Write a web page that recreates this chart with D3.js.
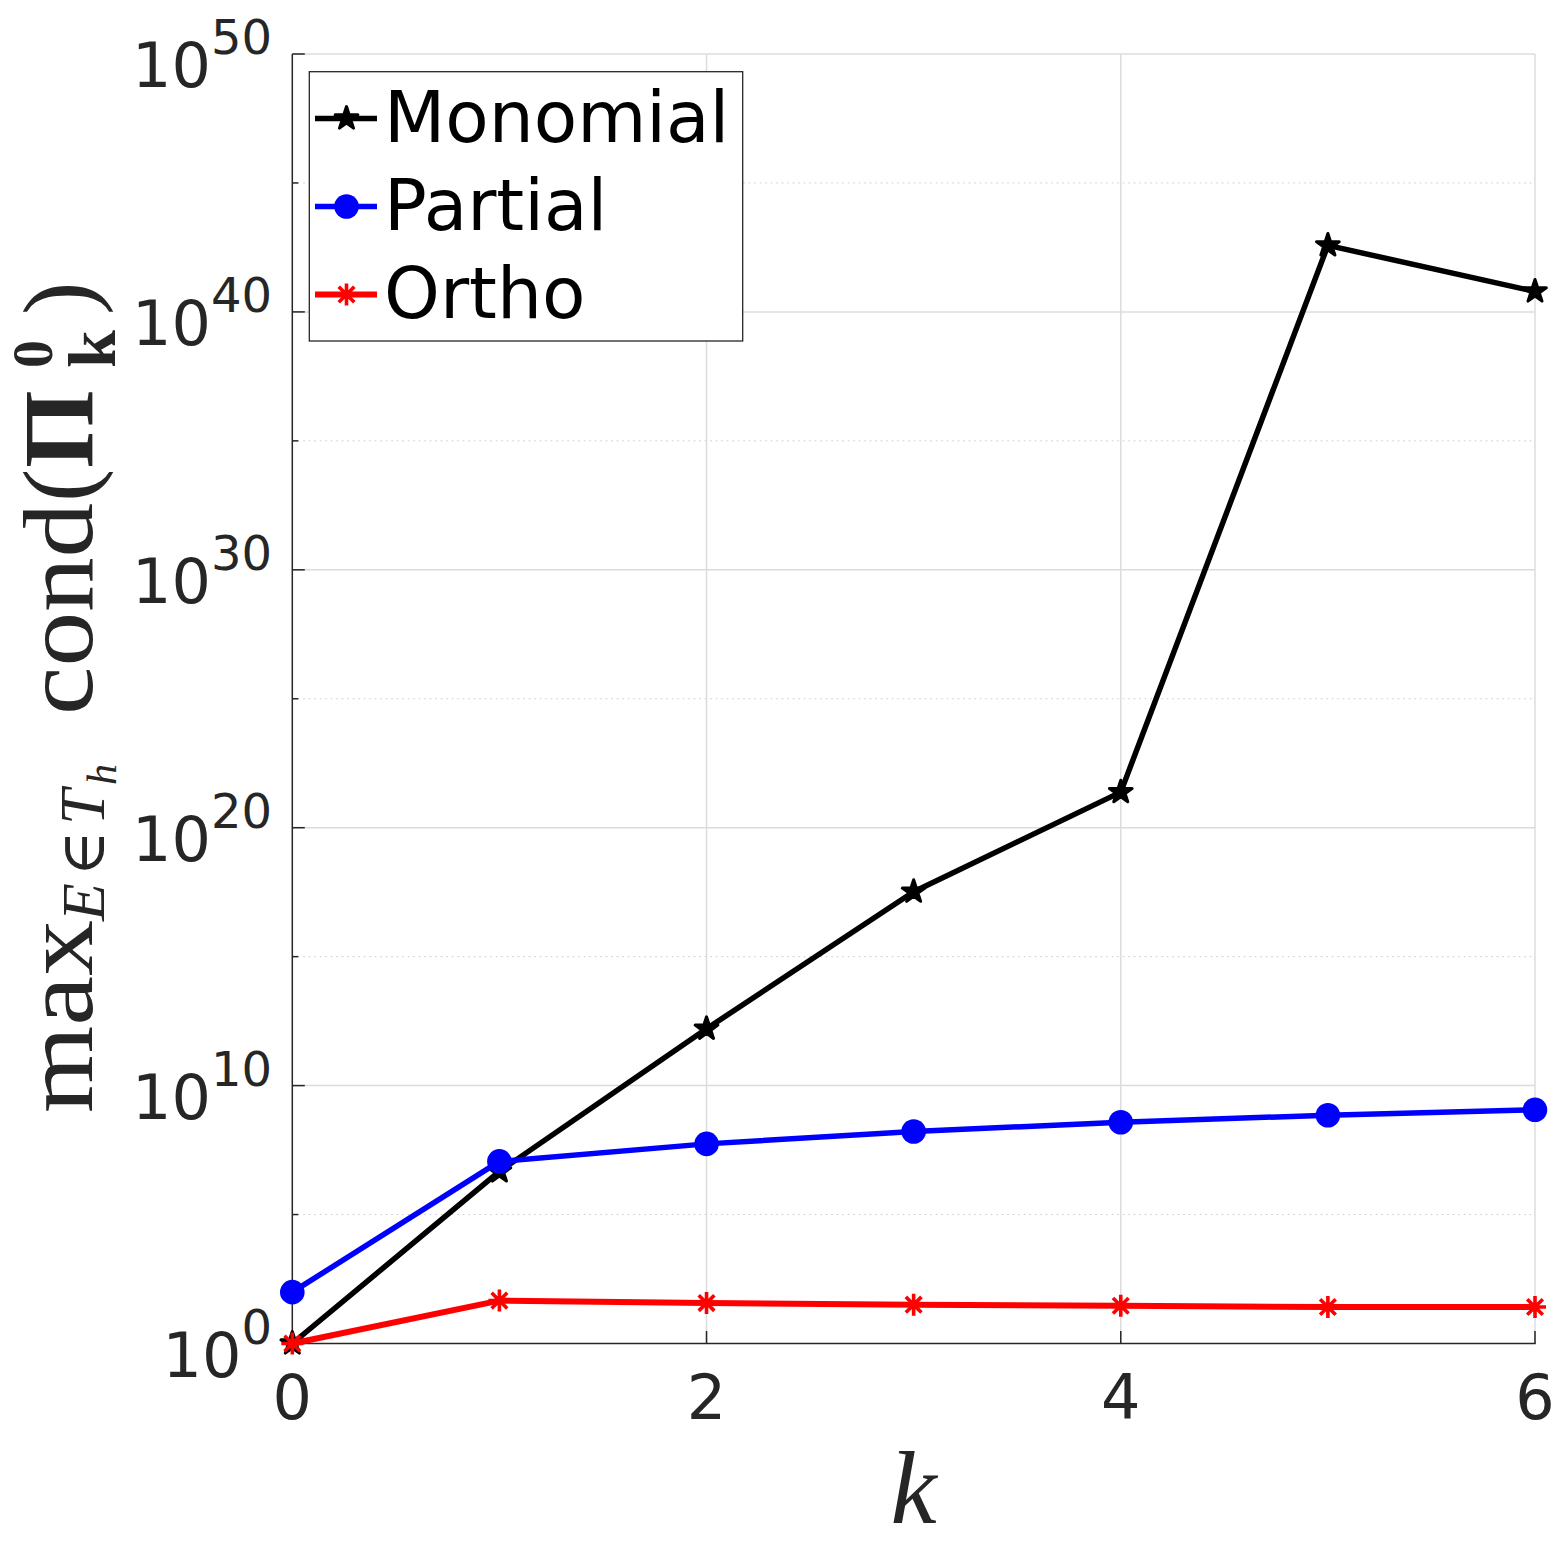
<!DOCTYPE html>
<html>
<head>
<meta charset="utf-8">
<script src="https://cdn.jsdelivr.net/npm/d3@7"></script>
<style>
  body { margin: 0; background: #fff; }
  svg { display: block; }
</style>
</head>
<body>
<svg id="chart" width="1563" height="1563"></svg>
<script>
// values (log scale)
const kValues = [0, 1, 2, 3, 4, 5, 6];
const monomial = [1, 4.7e6, 1.6e12, 3.3e17, 2.4e21, 3.8e42, 6.2e40];
const partial = [98, 1.15e7, 5.5e7, 1.66e8, 3.8e8, 7.1e8, 1.15e9];
const ortho = [1, 46, 37, 32, 29, 26, 26];
const seriesNames = ['Monomial', 'Partial', 'Ortho'];
const xTicks = [0, 2, 4, 6];
const yTickExponents = [0, 10, 20, 30, 40, 50];
const yMinorExponents = [5, 15, 25, 35, 45];

const axisColor = '#262626';
const sansFont = '"DejaVu Sans", sans-serif';
const serifFont = '"Liberation Serif", "DejaVu Serif", serif';

const svg = d3.select('#chart');

const x = d3.scaleLinear().domain([0, 6]).range([292.3, 1535]);
const y = d3.scaleLog().domain([1, 1e50]).range([1343.5, 54]);

// grid
const grid = svg.append('g');
grid.selectAll('.ymajor')
    .data(yTickExponents.filter(e => e > 0))
  .enter().append('line')
    .attr('x1', x(0)).attr('x2', x(6))
    .attr('y1', d => y(10 ** d)).attr('y2', d => y(10 ** d))
    .attr('stroke', '#dcdcdc').attr('stroke-width', 1.5);
grid.selectAll('.yminor')
    .data(yMinorExponents)
  .enter().append('line')
    .attr('x1', x(0)).attr('x2', x(6))
    .attr('y1', d => y(10 ** d)).attr('y2', d => y(10 ** d))
    .attr('stroke', '#c8c8c8').attr('stroke-width', 1)
    .attr('stroke-dasharray', '1.5,4');
grid.selectAll('.xgrid')
    .data(xTicks.filter(t => t > 0))
  .enter().append('line')
    .attr('x1', d => x(d)).attr('x2', d => x(d))
    .attr('y1', y(1)).attr('y2', y(1e50))
    .attr('stroke', '#dcdcdc').attr('stroke-width', 1.5);

// axes lines and ticks
const axes = svg.append('g').attr('stroke', axisColor);
axes.append('line')
    .attr('x1', x(0)).attr('x2', x(0)).attr('y1', y(1) + 0.7).attr('y2', y(1e50))
    .attr('stroke-width', 1.5);
axes.append('line')
    .attr('x1', x(0)).attr('x2', x(6) + 0.7).attr('y1', y(1)).attr('y2', y(1))
    .attr('stroke-width', 1.5);
axes.selectAll('.ytick')
    .data(yTickExponents)
  .enter().append('line')
    .attr('x1', x(0)).attr('x2', x(0) + 12.5)
    .attr('y1', d => y(10 ** d)).attr('y2', d => y(10 ** d))
    .attr('stroke-width', 1.5);
axes.selectAll('.yminortick')
    .data(yMinorExponents)
  .enter().append('line')
    .attr('x1', x(0)).attr('x2', x(0) + 6)
    .attr('y1', d => y(10 ** d)).attr('y2', d => y(10 ** d))
    .attr('stroke-width', 1.5);
axes.selectAll('.xtick')
    .data(xTicks)
  .enter().append('line')
    .attr('x1', d => x(d)).attr('x2', d => x(d))
    .attr('y1', y(1)).attr('y2', y(1) - 12.5)
    .attr('stroke-width', 1.5);

// tick labels
svg.selectAll('.xlabel')
    .data(xTicks)
  .enter().append('text')
    .attr('x', d => x(d))
    .attr('y', 1419)
    .attr('text-anchor', 'middle')
    .style('font-family', sansFont)
    .style('font-size', '62px')
    .attr('fill', axisColor)
    .text(d => d);

let yLabels = svg.selectAll('.ylabel')
    .data(yTickExponents)
  .enter().append('text')
    .attr('x', 272)
    .attr('y', d => y(10 ** d) + 33)
    .attr('text-anchor', 'end')
    .style('font-family', sansFont)
    .attr('fill', axisColor);
yLabels.append('tspan').style('font-size', '62px').text('10');
yLabels.append('tspan').style('font-size', '48px').attr('dy', -33).text(d => d);

// axis titles
svg.append('text')
    .attr('x', (x(0) + x(6)) / 2)
    .attr('y', 1523)
    .attr('text-anchor', 'middle')
    .style('font-family', serifFont)
    .style('font-style', 'italic')
    .style('font-size', '104px')
    .attr('fill', axisColor)
    .text('k');

const yTitle = svg.append('g')
    .attr('transform', 'translate(92,1113) rotate(-90)')
    .attr('fill', axisColor)
    .style('font-family', serifFont);
const titlePieces = [
    {text: 'max', at: 0, len: 193, size: 100, dy: 0},
    {text: 'E', at: 192, size: 62, dy: 12, italic: true},
    {text: '\u2208', at: 237, size: 62, dy: 12},
    {text: 'T', at: 288, size: 64, dy: 12, italic: true},
    {text: 'h', at: 328, size: 42, dy: 24, italic: true},
    {text: 'cond', at: 398, len: 212, size: 100, dy: 0},
    {text: '(', at: 611, size: 100, dy: 0},
    {text: '\u03A0', at: 645, size: 100, dy: 0, bold: true},
    {text: '0', at: 745, size: 56, dy: -40, bold: true},
    {text: 'k', at: 745, size: 68, dy: 23, bold: true},
    {text: ')', at: 798, size: 100, dy: 0}
];
titlePieces.forEach(p => {
    const t = yTitle.append('text')
        .attr('x', p.at)
        .attr('y', p.dy)
        .style('font-size', p.size + 'px')
        .style('font-style', p.italic ? 'italic' : 'normal')
        .style('font-weight', p.bold ? 'bold' : 'normal')
        .text(p.text);
    if (p.len) t.attr('textLength', p.len).attr('lengthAdjust', 'spacingAndGlyphs');
});

// markers
const starPath = d3.symbol(d3.symbolStar, 160)();
const asteriskPath = 'M0,-11V11M-11,0H11M-7.8,-7.8L7.8,7.8M-7.8,7.8L7.8,-7.8';

function drawMarker(sel, name, colour) {
    if (name === 'Monomial') {
        sel.append('path').attr('d', starPath).attr('fill', colour)
            .attr('stroke', colour).attr('stroke-width', 3)
            .attr('stroke-linejoin', 'round');
    } else if (name === 'Partial') {
        sel.append('circle').attr('r', 12.3).attr('fill', colour);
    } else {
        sel.append('path').attr('d', asteriskPath).attr('fill', 'none')
            .attr('stroke', colour).attr('stroke-width', 3.6);
    }
}

const colourScale = d3.scaleOrdinal()
    .domain(seriesNames)
    .range(['#000000', '#0000ff', '#ff0000']);
const seriesValues = [monomial, partial, ortho];
const lineWidth = name => name === 'Ortho' ? 6 : 5.5;

const lineGen = d3.line()
    .x((d, i) => x(kValues[i]))
    .y(d => y(d));

seriesNames.forEach((name, si) => {
    const colour = colourScale(name);
    const vals = seriesValues[si];
    const g = svg.append('g');
    g.append('path')
        .attr('d', lineGen(vals))
        .attr('fill', 'none')
        .attr('stroke', colour)
        .attr('stroke-width', lineWidth(name))
        .attr('stroke-linejoin', 'round');
    g.selectAll('.marker')
        .data(vals)
      .enter().append('g')
        .attr('transform', (d, i) => `translate(${x(kValues[i])},${y(d)})`)
        .each(function() { drawMarker(d3.select(this), name, colour); });
});

// legend
const legend = svg.append('g');
legend.append('rect')
    .attr('x', 309.3).attr('y', 71.7)
    .attr('width', 433.4).attr('height', 269.3)
    .attr('fill', '#fff')
    .attr('stroke', axisColor).attr('stroke-width', 1.3);
const rows = legend.selectAll('.legend-row')
    .data(seriesNames)
  .enter().append('g')
    .attr('transform', (d, i) => `translate(0,${118.5 + i * 88})`);
rows.append('line')
    .attr('x1', 315).attr('x2', 377)
    .attr('stroke', d => colourScale(d))
    .attr('stroke-width', d => lineWidth(d));
rows.append('g')
    .attr('transform', 'translate(346.5,0)')
    .each(function(d) { drawMarker(d3.select(this), d, colourScale(d)); });
rows.append('text')
    .attr('x', 384)
    .attr('y', 23.5)
    .style('font-family', sansFont)
    .style('font-size', '71px')
    .attr('fill', '#000')
    .text(d => d);
</script>
</body>
</html>
